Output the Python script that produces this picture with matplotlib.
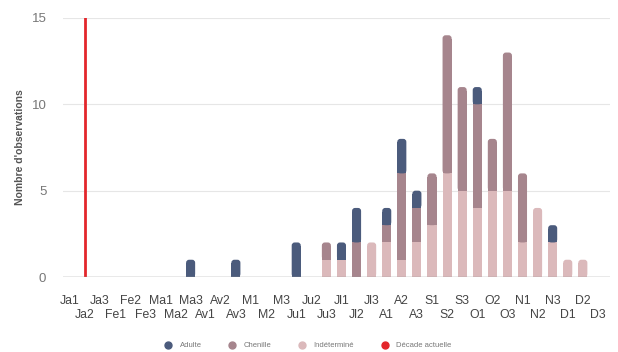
import numpy as np
import matplotlib
matplotlib.use('Agg')
import matplotlib.pyplot as plt
from matplotlib.lines import Line2D
from matplotlib.patches import FancyBboxPatch, Rectangle

plt.rcParams['font.family'] = ['Liberation Sans', 'DejaVu Sans']

decades = ['Ja1', 'Ja2', 'Ja3', 'Fe1', 'Fe2', 'Fe3', 'Ma1', 'Ma2', 'Ma3',
           'Av1', 'Av2', 'Av3', 'M1', 'M2', 'M3', 'Ju1', 'Ju2', 'Ju3',
           'Jl1', 'Jl2', 'Jl3', 'A1', 'A2', 'A3', 'S1', 'S2', 'S3',
           'O1', 'O2', 'O3', 'N1', 'N2', 'N3', 'D1', 'D2', 'D3']

indet = [0, 0, 0, 0, 0, 0, 0, 0, 0, 0, 0, 0, 0, 0, 0, 0, 0, 1,
         1, 0, 2, 2, 1, 2, 3, 6, 5, 4, 5, 5, 2, 4, 2, 1, 1, 0]
chenille = [0, 0, 0, 0, 0, 0, 0, 0, 0, 0, 0, 0, 0, 0, 0, 0, 0, 1,
            0, 2, 0, 1, 5, 2, 3, 8, 6, 6, 3, 8, 4, 0, 0, 0, 0, 0]
adulte = [0, 0, 0, 0, 0, 0, 0, 0, 1, 0, 0, 1, 0, 0, 0, 2, 0, 0,
          1, 2, 0, 1, 2, 1, 0, 0, 0, 1, 0, 0, 0, 0, 1, 0, 0, 0]
current = 'Ja2'

c_adulte = '#4b5b7c'
c_chen = '#a6858d'
c_indet = '#dbb9bb'
c_red = '#e3262b'

x = np.arange(len(decades))
stack = np.array([indet, chenille, adulte])
colors = [c_indet, c_chen, c_adulte]

fig = plt.figure(figsize=(6.18, 3.52), dpi=100)
ax = fig.add_axes([63/618, 75/352, 547/618, 259/352])

w = 0.6
r = 0.2       # corner radius (x units)
asp = 0.87    # y/x ratio so the corners look round
bottom = np.zeros(len(x))
for k, col in enumerate(colors):
    vals = stack[k]
    for i in x:
        if vals[i] == 0:
            continue
        is_top = stack[k+1:, i].sum() == 0
        if is_top:
            # rounded top, square bottom
            ax.add_patch(FancyBboxPatch((i - w/2, bottom[i]), w, vals[i],
                                        boxstyle='round,pad=0,rounding_size=%g' % r,
                                        mutation_aspect=asp, fc=col, ec='none', zorder=3))
            ax.add_patch(Rectangle((i - w/2, bottom[i]), w, vals[i] - r*asp*1.2,
                                   fc=col, ec='none', zorder=3))
        else:
            ax.add_patch(Rectangle((i - w/2, bottom[i]), w, vals[i],
                                   fc=col, ec='none', zorder=3))
    bottom = bottom + vals

cx = decades.index(current)
ax.plot([cx, cx], [0, 15], color=c_red, lw=2, zorder=4)

ax.set_xlim(-0.46, 35.8)
ax.set_ylim(0, 15)
ax.set_yticks([0, 5, 10, 15])
ax.grid(axis='y', color='#e6e6e6', lw=0.8, zorder=0)
ax.axhline(0, color='#999999', lw=1, zorder=5)
for s in ax.spines.values():
    s.set_visible(False)
ax.tick_params(axis='y', length=0, labelsize=9.5, labelcolor='#777777', pad=12)

# two rows of decade labels
ax.set_xticks(x[::2])
ax.set_xticklabels(decades[::2])
ax.set_xticks(x[1::2], minor=True)
ax.set_xticklabels(decades[1::2], minor=True)
ax.tick_params(axis='x', which='major', length=0, labelsize=8.8,
               labelcolor='#444444', pad=13)
ax.tick_params(axis='x', which='minor', length=0, labelsize=8.8,
               labelcolor='#444444', pad=23)

ax.set_ylabel("Nombre d'observations", fontsize=7.5, color='#555555',
              fontweight='bold', labelpad=5)

handles = [Line2D([], [], marker='o', ls='', color=c, markersize=5)
           for c in [c_adulte, c_chen, c_indet, c_red]]
fig.legend(handles, ['Adulte', 'Chenille', 'Indéterminé', 'Décade actuelle'],
           loc='center', bbox_to_anchor=(0.495, 0.018), ncol=4, frameon=False,
           fontsize=5.5, labelcolor='#777777', handletextpad=0.5,
           columnspacing=3.0)

fig.savefig('out.png', dpi=100)
